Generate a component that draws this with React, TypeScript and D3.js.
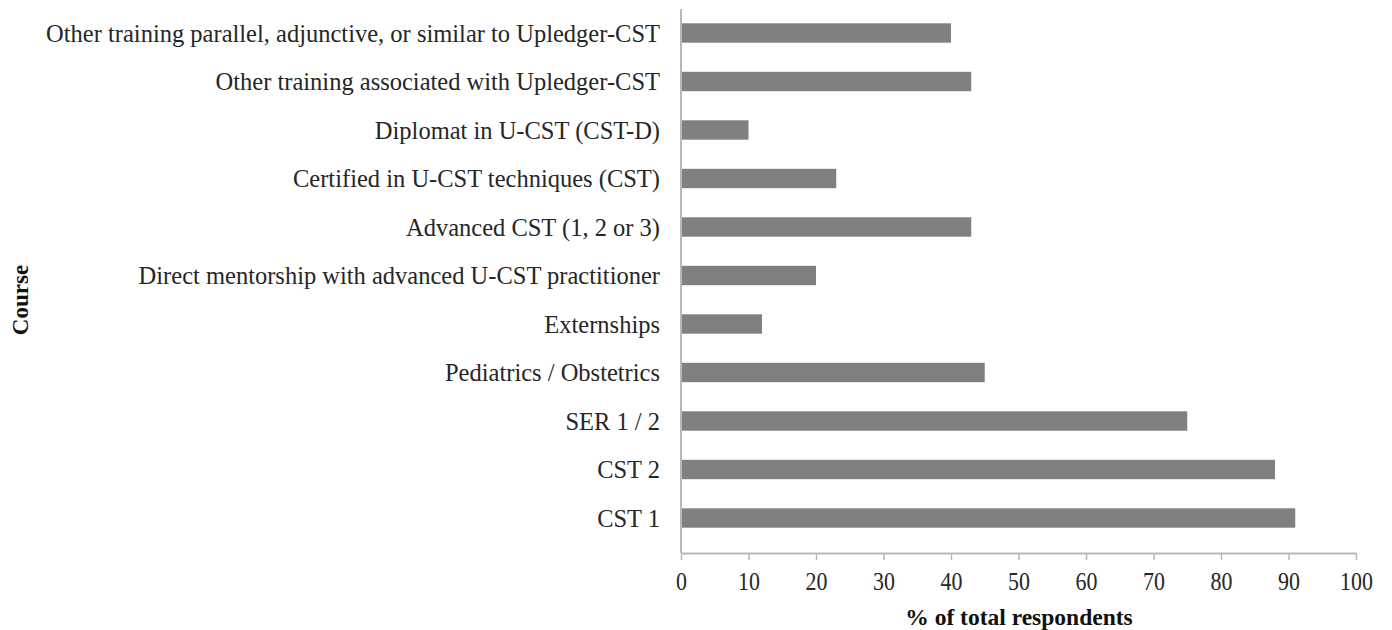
import * as d3 from 'd3';
import { useRef, useEffect } from 'react';

const courses = [
  'Other training parallel, adjunctive, or similar to Upledger-CST',
  'Other training associated with Upledger-CST',
  'Diplomat in U-CST (CST-D)',
  'Certified in U-CST techniques (CST)',
  'Advanced CST (1, 2 or 3)',
  'Direct mentorship with advanced U-CST practitioner',
  'Externships',
  'Pediatrics / Obstetrics',
  'SER 1 / 2',
  'CST 2',
  'CST 1',
];
const percents = [40, 43, 10, 23, 43, 20, 12, 45, 75, 88, 91];
const xTicks = [0, 10, 20, 30, 40, 50, 60, 70, 80, 90, 100];

const App = () => {
  const svgRef = useRef<SVGSVGElement>(null);

  useEffect(() => {
    const svg = d3.select(svgRef.current);
    const width = 1392;
    const height = 630;
    const margin = { top: 9, right: 36, bottom: 77, left: 681 };
    const font = '"Liberation Serif", "Times New Roman", serif';
    const axisColor = '#b8b8b8';

    svg.attr('width', width).attr('height', height);
    svg.selectAll('*').remove();

    const x = d3.scaleLinear()
      .domain([0, 100])
      .range([margin.left, width - margin.right]);

    // bands a little tighter than the full axis height (bottom gap is larger)
    const y = d3.scaleBand()
      .domain(courses)
      .range([8.75, 542.25])
      .paddingInner(0.6)
      .paddingOuter(0.3);

    svg.append('g')
      .selectAll('rect')
      .data(courses.map((c, i) => ({ c, v: percents[i] })))
      .enter().append('rect')
      .attr('x', x(0))
      .attr('y', d => y(d.c)!)
      .attr('width', d => x(d.v) - x(0))
      .attr('height', y.bandwidth())
      .attr('fill', '#808080');

    // category labels
    svg.append('g')
      .selectAll('text')
      .data(courses)
      .enter().append('text')
      .attr('x', margin.left - 21)
      .attr('y', d => y(d)! + y.bandwidth() / 2)
      .attr('dy', '0.35em')
      .attr('text-anchor', 'end')
      .style('font-family', font)
      .style('font-size', '24.5px')
      .style('fill', '#262626')
      .text(d => d);

    // y axis line
    svg.append('line')
      .attr('x1', margin.left).attr('x2', margin.left)
      .attr('y1', margin.top).attr('y2', height - margin.bottom)
      .attr('stroke', axisColor).attr('stroke-width', 2);

    const xAxisG = svg.append('g')
      .attr('transform', `translate(0,${height - margin.bottom})`)
      .call(d3.axisBottom(x).tickValues(xTicks).tickSize(7).tickSizeOuter(0).tickPadding(12));
    xAxisG.select('.domain').attr('stroke', axisColor).attr('stroke-width', 2);
    xAxisG.selectAll('.tick line').attr('stroke', axisColor).attr('stroke-width', 1.5);
    xAxisG.selectAll('.tick text')
      .attr('transform', 'scale(0.86,1)')
      .style('font-family', font)
      .style('font-size', '25.5px')
      .style('fill', '#262626');

    svg.append('text')
      .attr('x', 1019)
      .attr('y', height - 5)
      .attr('text-anchor', 'middle')
      .style('font-family', font)
      .style('font-size', '23.5px')
      .style('font-weight', 'bold')
      .style('fill', '#111')
      .text('% of total respondents');

    svg.append('text')
      .attr('x', -300)
      .attr('y', 28)
      .attr('text-anchor', 'middle')
      .attr('transform', 'rotate(-90)')
      .style('font-family', font)
      .style('font-size', '23px')
      .style('font-weight', 'bold')
      .style('fill', '#111')
      .text('Course');
  }, []);

  return (
    <div style={{ position: 'absolute', left: 0, top: 0, background: '#fff' }}>
      <svg ref={svgRef} style={{ display: 'block' }}></svg>
    </div>
  );
};

export default App;
